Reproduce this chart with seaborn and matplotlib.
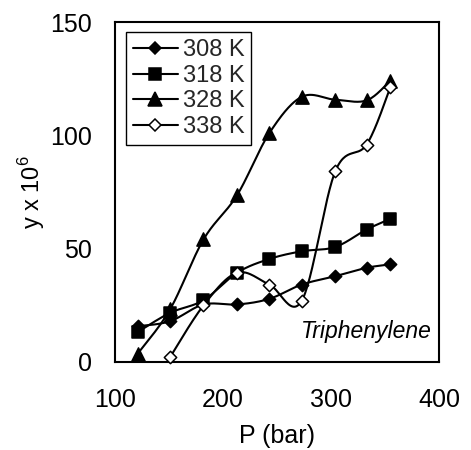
import numpy as np
import matplotlib
matplotlib.use("Agg")
import matplotlib.pyplot as plt
import seaborn as sns
from matplotlib.lines import Line2D

# ---- data ----
P = [121, 151, 182, 213, 243, 273, 304, 333, 355]
y308 = [15.7, 17.9, 25.3, 25.3, 27.8, 34.1, 37.8, 41.5, 43.0]
y318 = [13.1, 21.6, 27.2, 39.3, 45.4, 48.8, 50.7, 58.4, 63.1]
y328 = [3.5, 23.1, 54.0, 73.5, 101.0, 117.0, 115.7, 115.4, 124.1]
P338 = [151, 182, 213, 243, 273, 304, 333, 355]
y338 = [2.0, 24.9, 39.3, 34.1, 27.0, 84.1, 95.9, 121.2]
labels = ["308 K", "318 K", "328 K", "338 K"]
xticks = [100, 200, 300, 400]
yticks = [0, 50, 100, 150]

sns.set_theme(style="white")
plt.rcParams["font.family"] = ["Liberation Sans", "DejaVu Sans"]
plt.rcParams["mathtext.fontset"] = "custom"
plt.rcParams["mathtext.rm"] = "Liberation Sans"


def smooth(xs, ys, n=30):
    """Excel-like smoothed line (Bezier with Catmull-Rom control points)."""
    pts = np.column_stack([xs, ys]).astype(float)
    m = len(pts)
    out = []
    for i in range(m - 1):
        p0 = pts[i - 1] if i > 0 else pts[i]
        p1 = pts[i]
        p2 = pts[i + 1]
        p3 = pts[i + 2] if i + 2 < m else pts[i + 1]
        c1 = p1 + (p2 - p0) / 6.0
        c2 = p2 - (p3 - p1) / 6.0
        t = np.linspace(0, 1, n)[:, None]
        seg = ((1 - t) ** 3) * p1 + 3 * ((1 - t) ** 2) * t * c1 + 3 * (1 - t) * t ** 2 * c2 + t ** 3 * p2
        out.append(seg if i == 0 else seg[1:])
    a = np.vstack(out)
    return a[:, 0], a[:, 1]


fig = plt.figure(figsize=(4.71, 4.5), dpi=100)
ax = fig.add_axes([0.244, 0.196, 0.688, 0.755])

series = [
    (P, y308, "D", "black", 6.3),
    (P, y318, "s", "black", 8.5),
    (P, y328, "^", "black", 9.5),
    (P338, y338, "D", "white", 6.3),
]
handles = []
for (xs, ys, mk, fc, ms), lab in zip(series, labels):
    sx, sy = smooth(xs, ys)
    sns.lineplot(x=sx, y=sy, sort=False, estimator=None, color="black",
                 linewidth=1.5, ax=ax, zorder=2)
    sns.scatterplot(x=xs, y=ys, marker=mk, s=ms ** 2, color=fc,
                    edgecolor="black", linewidth=1.1, ax=ax, zorder=3,
                    clip_on=False)
    handles.append(Line2D([0], [0], color="black", lw=1.5, marker=mk,
                          markersize=ms, markerfacecolor=fc,
                          markeredgecolor="black", markeredgewidth=1.1))

ax.set_xlim(100, 400)
ax.set_ylim(0, 150)
ax.set_xticks(xticks)
ax.set_yticks(yticks)
ax.tick_params(axis="both", direction="in", length=5, width=1.2,
               labelsize=18, colors="black")
ax.tick_params(axis="x", pad=19)
ax.tick_params(axis="y", pad=16.5)
for s in ax.spines.values():
    s.set_visible(True)
    s.set_color("black")
    s.set_linewidth(1.5)

ax.set_xlabel("P (bar)", fontsize=18, labelpad=8.5, color="black")
ax.set_ylabel("y x 10$^{6}$", fontsize=17, labelpad=2, color="black")

ax.text(0.978, 0.088, "Triphenylene", transform=ax.transAxes, ha="right",
        va="center", fontsize=16.5, style="italic", color="black")

leg = ax.legend(handles, labels, loc="upper left", bbox_to_anchor=(0.034, 0.97),
                fontsize=17, frameon=True, fancybox=False, framealpha=1,
                edgecolor="black", handlelength=1.9, handletextpad=0.2,
                borderpad=0.3, labelspacing=0.15, borderaxespad=0)
leg.get_frame().set_linewidth(1.0)
ax.grid(False)

fig.savefig("out.png", dpi=100)
